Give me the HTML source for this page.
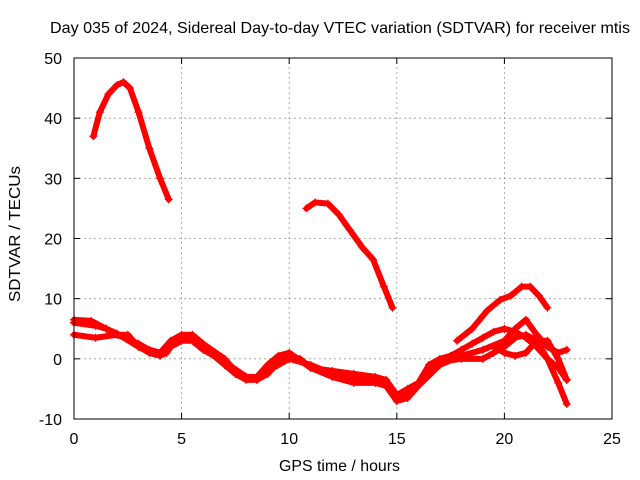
<!DOCTYPE html>
<html><head><meta charset="utf-8"><style>
body{margin:0;background:#fff;}
svg{display:block;font-family:"Liberation Sans",sans-serif;}
</style></head><body>
<svg id="chart" width="640" height="480">
<text x="50" y="33" font-size="16" textLength="580" lengthAdjust="spacingAndGlyphs">Day 035 of 2024, Sidereal Day-to-day VTEC variation (SDTVAR) for receiver mtis</text>
<text x="279" y="471" font-size="16" textLength="121" lengthAdjust="spacingAndGlyphs">GPS time / hours</text>
<text transform="translate(20,302) rotate(-90)" font-size="16" textLength="136" lengthAdjust="spacingAndGlyphs">SDTVAR / TECUs</text>
<g id="grid"></g><g id="series"></g>
<rect x="74" y="58" width="538" height="361" fill="none" stroke="#000" stroke-width="1"/>
</svg>
<script>
const xTicks=[0,5,10,15,20,25];
const yTicks=[-10,0,10,20,30,40,50];
const trackA=[[0.9,37],[1.2,41],[1.6,44],[2.0,45.5],[2.3,46],[2.6,45],[3.0,41],[3.5,35],[4.0,30],[4.4,26.5]];
const trackB=[[10.8,25],[11.2,26],[11.8,25.8],[12.3,24],[12.8,21.5],[13.4,18.5],[13.9,16.5],[14.4,12],[14.8,8.5]];
const trackC=[[17.8,3],[18.5,5],[19.2,8],[19.8,9.8],[20.3,10.5],[20.8,12],[21.2,12],[21.6,10.5],[22.0,8.5]];
const trackL1=[[0,6.5],[0.8,6.3],[1.5,5],[2,4],[2.5,4],[3,2],[3.5,1],[4,0.5],[4.3,1],[4.6,2.5],[5,3.5],[5.5,3.5],[6,2],[7,-1],[7.5,-2.5],[8,-3.5],[8.5,-3.5],[9,-2.5],[9.5,-0.5],[10,0.5],[10.5,0],[11,-1.5],[12,-2],[13,-2.5],[14,-3],[14.5,-3.5],[15,-6],[15.5,-5],[16,-4],[16.5,-1],[17,0],[17.5,0.5],[18,1.5],[18.5,2.5],[19,3.5],[19.5,4.5],[20,5],[20.5,4.5],[21,3.5],[21.5,2],[22,0],[22.5,-1.5],[22.9,-3.5]];
const trackL2=[[0,4],[1,3.5],[2,4],[3,2.5],[3.5,1.5],[4,1],[4.5,3],[5,4],[5.5,4],[6,2.5],[7,0],[7.5,-2],[8,-3],[8.5,-3],[9,-1],[9.5,0.5],[10,1],[11,-1.5],[12,-3],[13,-4],[14,-4],[14.5,-4.5],[15,-7],[15.5,-6.5],[16,-4.5],[17,-1],[18,0.5],[19,1.5],[20,3],[20.5,5],[21,6.5],[21.5,4],[22,2],[22.5,1],[22.9,1.5]];
const trackL3=[[0,6],[1,5.5],[1.5,5],[2,4.2],[3,2],[4,1],[4.5,2],[5,3],[5.5,3],[6,1.5],[7,-0.5],[8,-3],[8.5,-3.5],[9,-2],[10,0],[11,-1],[12,-2.5],[13,-3.5],[14,-3.5],[14.5,-4],[15,-6.5],[15.5,-5.5],[16,-4],[17,-0.5],[18,0],[19,0],[19.5,1],[20,2],[20.5,3.5],[21,4],[21.5,3],[22,0],[22.5,-4],[22.9,-7.5]];
const trackL4=[[19.5,2],[20,1],[20.5,0.5],[21,1],[21.5,3],[22,3],[22.5,0],[22.9,-3.5]];
const tracks=[trackA,trackB,trackC,trackL1,trackL2,trackL3,trackL4];
const X0=74,X1=612,Y0=419,Y1=58;
const sx=v=>X0+(v-0)/(25-0)*(X1-X0);
const sy=v=>Y0-(v+10)/(60)*(Y0-Y1);
const NS="http://www.w3.org/2000/svg";
const grid=document.getElementById('grid');
function mk(t,a,p){const e=document.createElementNS(NS,t);for(const k in a)e.setAttribute(k,a[k]);p.appendChild(e);return e;}
xTicks.forEach(v=>{
  if(v>0&&v<25){const l=mk('line',{x1:sx(v),x2:sx(v),y1:Y0,y2:Y1,stroke:'#999','stroke-dasharray':'2,3','stroke-width':0.8},grid);
  
  }
  mk('line',{x1:sx(v),x2:sx(v),y1:Y0,y2:Y0-6,stroke:'#000'},grid);
  mk('line',{x1:sx(v),x2:sx(v),y1:Y1,y2:Y1+6,stroke:'#000'},grid);
  const t=mk('text',{x:sx(v),y:Y0+25,'font-size':16,'text-anchor':'middle'},grid);t.textContent=v;
  
  
});
yTicks.forEach(v=>{
  if(v>-10&&v<50){const l=mk('line',{x1:X0,x2:X1,y1:sy(v),y2:sy(v),stroke:'#999','stroke-dasharray':'2,3','stroke-width':0.8},grid);
  
  }
  mk('line',{x1:X0,x2:X0+6,y1:sy(v),y2:sy(v),stroke:'#000'},grid);
  mk('line',{x1:X1,x2:X1-6,y1:sy(v),y2:sy(v),stroke:'#000'},grid);
  const t=mk('text',{x:X0-12,y:sy(v)+6,'font-size':16,'text-anchor':'end'},grid);t.textContent=v;
  
  
});
const sg=document.getElementById('series');
tracks.forEach((tr,i)=>{
  const p=mk('polyline',{points:tr.map(d=>sx(d[0])+','+sy(d[1])).join(' '),fill:'none',stroke:'#f00','stroke-width':6,'stroke-linejoin':'round','stroke-linecap':'round'},sg);
  
  
  tr.forEach(d=>{
    const x=sx(d[0]),y=sy(d[1]);
    mk('path',{d:`M${x-4},${y}H${x+4}M${x},${y-4}V${y+4}`,stroke:'#f00','stroke-width':1.2},sg);
  });
});
</script>
</body></html>
